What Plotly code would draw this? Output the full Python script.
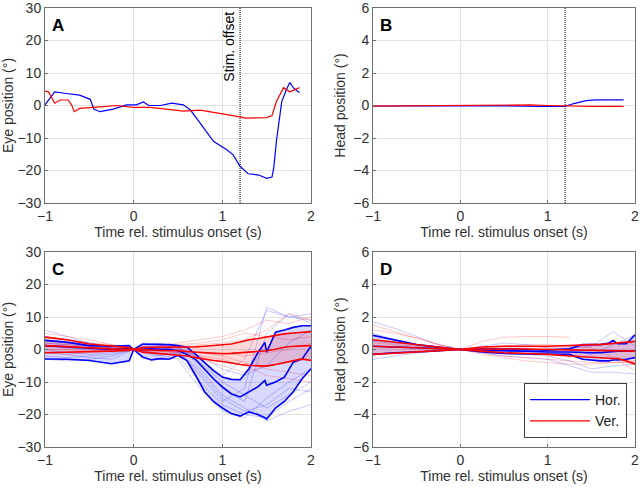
import plotly.graph_objects as go

# ---------------- data ----------------
# Panel A: single trial eye position
a_hor_t = [-1, -0.89, -0.76, -0.61, -0.49, -0.45, -0.38, -0.23, -0.08, 0.03, 0.11, 0.17, 0.30, 0.43, 0.56, 0.64, 0.75, 0.90, 1.05, 1.12, 1.20, 1.29, 1.41, 1.50, 1.56, 1.58, 1.61, 1.67, 1.72, 1.76, 1.80, 1.87]
a_hor_y = [0.2, 4.2, 3.7, 3.2, 1.9, -1.1, -1.9, -1.1, 0.2, 0.2, 1.1, 0.0, 0.0, 0.7, 0.2, -1.4, -5.4, -11.0, -13.6, -15.1, -18.7, -21.0, -21.4, -22.4, -22.0, -19.2, -11.0, 1.2, 4.7, 7.1, 5.5, 3.9]
a_ver_t = [-1, -0.96, -0.89, -0.83, -0.74, -0.70, -0.67, -0.61, -0.38, -0.19, 0.0, 0.18, 0.37, 0.56, 0.75, 0.94, 1.12, 1.27, 1.50, 1.56, 1.61, 1.69, 1.76, 1.87]
a_ver_y = [4.4, 4.2, 0.7, 1.7, 1.7, 0.2, -1.9, -0.9, -0.4, 0.0, -0.6, -0.6, -1.1, -1.7, -1.4, -2.2, -3.1, -3.9, -3.7, -3.1, 1.2, 5.5, 4.2, 5.5]

# Panel B: single trial head position
b_hor_t = [-1, -0.5, 0.0, 0.5, 0.9, 1.1, 1.2, 1.3, 1.44, 1.55, 1.87]
b_hor_y = [-0.03, -0.02, 0.0, -0.02, -0.06, -0.08, -0.05, 0.12, 0.30, 0.35, 0.35]
b_ver_t = [-1, -0.5, 0.0, 0.5, 0.8, 1.0, 1.2, 1.5, 1.87]
b_ver_y = [-0.04, -0.02, 0.0, 0.05, 0.04, 0.0, -0.03, -0.05, -0.05]

stim_offset = 1.2

# Panel C: eye position across trials
c_t = [-1, -0.75, -0.5, -0.25, -0.05, 0, 0.1, 0.2, 0.3, 0.4, 0.5, 0.6, 0.7, 0.8, 0.9, 1.0, 1.1, 1.2, 1.3, 1.4, 1.48, 1.5, 1.6, 1.7, 1.8, 1.9, 2.0]
c_hor_up = [2.8, 2.2, 1.2, 1.0, 1.2, 0, 1.7, 1.7, 1.7, 1.5, 1.2, 0.7, -1.5, -4.0, -6.5, -8.5, -9.2, -9.3, -5.9, -1.0, 2.2, -0.8, 5.3, 6.0, 6.8, 7.3, 7.3]
c_hor_mn = [1.2, 0.8, 0.2, 0.0, 0.2, 0, 0.0, 0.2, 0.0, 0.1, -0.4, -1.5, -3.1, -6.0, -9.0, -11.5, -13.6, -14.6, -13.0, -11.5, -9.5, -11.0, -10.0, -8.5, -3.9, -2.9, 1.0]
c_hor_lo = [-2.9, -3.0, -3.4, -4.4, -3.5, 0, -2.3, -3.2, -2.8, -3.0, -1.8, -3.4, -8.0, -13.0, -16.0, -18.0, -19.7, -20.5, -19.2, -20.0, -21.0, -21.4, -18.0, -16.0, -13.0, -9.0, -5.9]
c_ver_up = [3.8, 3.0, 1.7, 1.0, 0.6, 0, 0.7, 0.7, 0.7, 0.7, 0.7, 0.7, 0.8, 1.0, 1.2, 1.4, 1.7, 2.3, 3.0, 3.4, 3.8, 3.8, 4.3, 4.8, 5.1, 5.4, 5.5]
c_ver_mn = [1.2, 0.9, 0.4, 0.2, 0.1, 0, -0.1, -0.2, -0.3, -0.3, -0.4, -0.6, -0.8, -1.0, -1.2, -1.3, -1.2, -1.0, -0.8, -0.6, -0.4, -0.4, 0.1, 0.7, 1.0, 1.1, 1.2]
c_ver_lo = [-1.0, -0.9, -0.8, -0.5, -0.3, 0, -0.8, -1.0, -1.2, -1.4, -1.6, -2.0, -2.5, -3.0, -3.4, -3.7, -4.2, -4.6, -4.9, -5.0, -5.1, -5.1, -4.6, -4.1, -3.5, -2.9, -3.4]

thin_t = [-1, -0.75, -0.5, -0.25, 0, 0.25, 0.5, 0.75, 1.0, 1.25, 1.5, 1.75, 2.0]
c_hor_trials = [
    [2, 1.5, 1, 0.5, 0, 1, 0.5, -4, -10, -14, -18, -14, -10],
    [-2, -2.5, -2, -1.5, 0, -1, -2, -10, -17, -20, -21, -16, -12],
    [4, 3, 2, 1, 0, 1.5, 0.5, -3, -8, -3, 12, 10, 9],
    [0, -1, -1.5, -1, 0, 0, -1, -6, -14, -18, -22, -19, -17],
    [1, 0.5, 0, -0.5, 0, 0.5, 0, -2, -6, -8, -5, 2, 6],
    [-1, -1.5, -2.5, -3, 0, -1.5, -3, -12, -19, -21, -15, -10, -6],
    [6, 4, 2, 0.5, 0, 2, 1, -5, -12, -16, 5, 11, 8],
    [-3, -3.5, -3, -2, 0, -2, -1, -7, -15, -19, -17, -12, -13],
    [3, 2.5, 1.5, 0.5, 0, 0.5, -0.5, -8, -16, -12, 13, 10, 11],
]
c_ver_trials = [
    [5, 4, 3, 1.5, 0, 1, 2, 3, 4, 6, 9, 8, 10],
    [3, 2, 1.5, 1, 0, 0.5, 1, 1.5, 2, 3, 6, 11, 9],
    [-1, -1.5, -1, -0.5, 0, -0.5, -1, -2, -3, -5, -8, -9, -10],
    [2, 1.5, 1, 0.5, 0, 0, -0.5, -1, -2, -4, -6, -7, -8],
    [0, 0, -0.5, 0, 0, 1, 1.5, 2, 3, 5, 4, 3, 4],
    [4, 3, 2, 1.5, 0, -1, -1.5, -3, -5, -7, -5, -4, -3],
    [1, 1, 0.5, 0, 0, 0.5, 0, -1, -1, -2, -1, 0, 2],
]

# Panel D: head position across trials
d_t = [-1, -0.75, -0.5, -0.25, 0, 0.25, 0.5, 0.75, 1.0, 1.25, 1.4, 1.5, 1.6, 1.7, 1.75, 1.8, 1.9, 2.0]
d_hor_up = [0.87, 0.6, 0.3, 0.15, 0, 0.05, 0.05, 0.0, -0.05, 0.05, 0.3, 0.3, 0.3, 0.4, 0.55, 0.35, 0.35, 0.9]
d_hor_mn = [0.2, 0.15, 0.1, 0.05, 0, -0.05, -0.08, -0.1, -0.15, -0.15, -0.2, -0.2, -0.2, -0.15, -0.1, -0.1, -0.1, -0.1]
d_hor_lo = [-0.3, -0.2, -0.15, -0.08, 0, -0.15, -0.25, -0.28, -0.3, -0.3, -0.6, -0.65, -0.7, -0.7, -0.65, -0.65, -0.6, -0.5]
d_ver_up = [0.6, 0.45, 0.3, 0.15, 0, 0.15, 0.2, 0.2, 0.2, 0.25, 0.3, 0.3, 0.3, 0.35, 0.4, 0.4, 0.45, 0.5]
d_ver_mn = [0.2, 0.15, 0.1, 0.05, 0, 0.03, 0.05, 0.03, 0.0, -0.03, -0.05, -0.05, -0.05, -0.08, -0.08, -0.1, -0.1, -0.1]
d_ver_lo = [-0.3, -0.22, -0.15, -0.08, 0, -0.1, -0.2, -0.25, -0.3, -0.4, -0.45, -0.5, -0.5, -0.55, -0.55, -0.55, -0.7, -0.9]
d_hor_trials = [
    [1.7, 1.3, 0.8, 0.3, 0, -0.2, -0.4, -0.5, -0.6, -1.0, -1.4, -1.4, -1.5],
    [-0.6, -0.4, -0.2, -0.1, 0, 0.2, 0.4, 0.3, 0.1, 0, -0.3, 0.3, 0.9],
    [0.5, 0.4, 0.3, 0.1, 0, -0.1, -0.2, -0.3, -0.4, -0.7, -1.2, -1.0, -0.9],
    [1.0, 0.6, 0.3, 0.1, 0, -0.1, -0.1, 0.0, 0.0, 0.1, 0.2, 1.1, 0.2],
]
d_ver_trials = [
    [1.5, 1.1, 0.7, 0.3, 0, 0.5, 0.75, 0.8, 0.8, 0.75, None, None, None],
    [1.2, 1.0, 0.7, 0.3, 0, -0.3, -0.5, -0.7, -0.8, -0.9, -0.9, -0.8, -0.8],
    [-0.3, -0.2, -0.1, 0.0, 0, 0.1, 0.2, 0.3, 0.3, 0.2, 0.1, -0.5, -1.3],
    [0.4, 0.3, 0.2, 0.1, 0, -0.2, -0.4, -0.5, -0.6, -0.7, -0.8, -0.8, -0.7],
]

BLUE = "rgb(0,0,255)"
RED = "rgb(255,0,0)"
BLUE_THIN = "rgba(0,0,255,0.22)"
RED_THIN = "rgba(255,0,0,0.22)"
BLUE_FILL = "rgba(0,0,255,0.15)"
RED_FILL = "rgba(255,0,0,0.15)"

fig = go.Figure()

def line(x, y, color, width, xa, ya, name=None, show=False, fill=None, fillcolor=None):
    fig.add_trace(go.Scatter(x=x, y=y, mode="lines", line=dict(color=color, width=width),
                             xaxis=xa, yaxis=ya, name=name, showlegend=show,
                             fill=fill, fillcolor=fillcolor, hoverinfo="skip"))

# A
line(a_hor_t, a_hor_y, BLUE, 1.2, "x", "y")
line(a_ver_t, a_ver_y, RED, 1.2, "x", "y")
# B
line(b_hor_t, b_hor_y, BLUE, 1.2, "x2", "y2")
line(b_ver_t, b_ver_y, RED, 1.2, "x2", "y2")

def panel(xa, ya, t, trials_h, trials_v, h_up, h_mn, h_lo, v_up, v_mn, v_lo, legend=False):
    # shaded bands
    line(t, h_lo, "rgba(0,0,0,0)", 0, xa, ya)
    line(t, h_up, "rgba(0,0,0,0)", 0, xa, ya, fill="tonexty", fillcolor=BLUE_FILL)
    line(t, v_lo, "rgba(0,0,0,0)", 0, xa, ya)
    line(t, v_up, "rgba(0,0,0,0)", 0, xa, ya, fill="tonexty", fillcolor=RED_FILL)
    for tr in trials_h:
        line(thin_t, tr, BLUE_THIN, 1, xa, ya)
    for tr in trials_v:
        line(thin_t, tr, RED_THIN, 1, xa, ya)
    for s in (h_up, h_mn, h_lo):
        line(t, s, BLUE, 1.6, xa, ya)
    for s in (v_up, v_mn, v_lo):
        line(t, s, RED, 1.6, xa, ya)
    if legend:
        line([None], [None], BLUE, 1.2, xa, ya, name="Hor.", show=True)
        line([None], [None], RED, 1.2, xa, ya, name="Ver.", show=True)

panel("x3", "y3", c_t, c_hor_trials, c_ver_trials, c_hor_up, c_hor_mn, c_hor_lo, c_ver_up, c_ver_mn, c_ver_lo)
panel("x4", "y4", d_t, d_hor_trials, d_ver_trials, d_hor_up, d_hor_mn, d_hor_lo, d_ver_up, d_ver_mn, d_ver_lo, legend=True)

# Stim offset lines
for xa, ya in (("x", "y domain"), ("x2", "y2 domain")):
    fig.add_shape(type="line", x0=stim_offset, x1=stim_offset, y0=0, y1=1, xref=xa, yref=ya,
                  line=dict(color="black", width=1, dash="1px,1px"))
fig.add_annotation(x=stim_offset, y=29.5, xref="x", yref="y", text="Stim. offset", textangle=-90,
                   showarrow=False, xanchor="right", yanchor="top", xshift=-1,
                   font=dict(size=14, color="black"))

FONT = "Liberation Sans, Arial, sans-serif"
AX_COL = "#707070"
GRID = "#e2e2e2"
TXT = "#303030"

def xaxis(domain, anchor):
    return dict(domain=domain, anchor=anchor, range=[-1, 2], tickvals=[-1, 0, 1, 2],
                showgrid=True, gridcolor=GRID, zeroline=False, showline=True, linecolor=AX_COL,
                linewidth=1, mirror=True, ticks="inside", ticklen=3, tickcolor=AX_COL,
                automargin=False, ticklabeloverflow="allow", tickfont=dict(size=14, color=TXT),
                title=dict(text="Time rel. stimulus onset (s)", font=dict(size=14, color=TXT), standoff=2))

def yaxis(domain, anchor, rng, step, title):
    vals = list(range(rng[0], rng[1] + 1, step))
    return dict(domain=domain, anchor=anchor, range=rng, tickvals=vals,
                showgrid=True, gridcolor=GRID, zeroline=False, showline=True, linecolor=AX_COL,
                linewidth=1, mirror=True, ticks="inside", ticklen=3, tickcolor=AX_COL,
                automargin=False, ticklabeloverflow="allow", tickfont=dict(size=14, color=TXT),
                title=dict(text=title, font=dict(size=14, color=TXT), standoff=4))

W, H = 642, 491
xl = [45 / W, 311 / W]
xr = [373 / W, 635 / W]
yt = [1 - 203 / H, 1 - 8 / H]
yb = [1 - 447 / H, 1 - 252 / H]

fig.update_layout(
    width=W, height=H, margin=dict(l=0, r=0, t=0, b=0, autoexpand=False),
    paper_bgcolor="white", plot_bgcolor="white",
    font=dict(family=FONT, size=14, color=TXT),
    xaxis=xaxis(xl, "y"), yaxis=yaxis(yt, "x", [-30, 30], 10, "Eye position (°)"),
    xaxis2=xaxis(xr, "y2"), yaxis2=yaxis(yt, "x2", [-6, 6], 2, "Head position (°)"),
    xaxis3=xaxis(xl, "y3"), yaxis3=yaxis(yb, "x3", [-30, 30], 10, "Eye position (°)"),
    xaxis4=xaxis(xr, "y4"), yaxis4=yaxis(yb, "x4", [-6, 6], 2, "Head position (°)"),
    legend=dict(x=627 / W, y=1 - 438 / H, xanchor="right", yanchor="bottom",
                bgcolor="white", bordercolor="#404040", borderwidth=1, traceorder="normal",
                font=dict(size=14, color="#202020"), itemwidth=60, tracegroupgap=0),
    showlegend=True,
)

for lab, xa, ya in (("A", "x", "y"), ("B", "x2", "y2"), ("C", "x3", "y3"), ("D", "x4", "y4")):
    fig.add_annotation(text="<b>" + lab + "</b>", x=0.02, y=0.97, xref=xa + " domain", yref=ya + " domain",
                       xanchor="left", yanchor="top", showarrow=False,
                       font=dict(size=17, color="black"))

fig.write_html("out.html", config={"displayModeBar": False},
               post_script="document.body.style.margin='0';document.body.style.overflow='hidden';")
